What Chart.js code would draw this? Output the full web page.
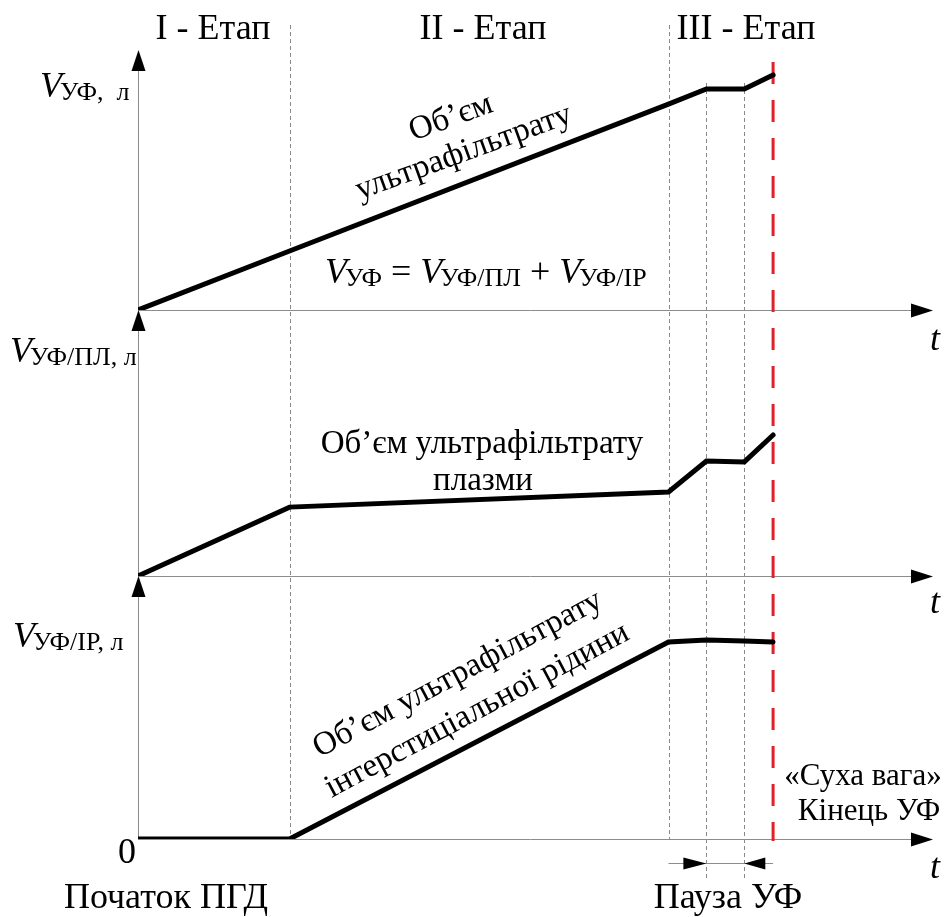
<!DOCTYPE html>
<html>
<head>
<meta charset="utf-8">
<script src="https://cdn.jsdelivr.net/npm/chart.js@4.4.1/dist/chart.umd.min.js"></script>
<style>
  html, body { margin: 0; padding: 0; background: #fff; }
  #wrap { width: 949px; height: 917px; }
</style>
</head>
<body>
<div id="wrap"><canvas id="ufChart" width="949" height="917"></canvas></div>
<script>
// schematic time points
const times = [0, 2, 7, 7.5, 8, 8.38];
const stageBounds = [2, 7];
const pauseBounds = [7.5, 8];
const endTime = 8.38;
const tMax = 10.49;

// volumes (arbitrary units, 0..10 per panel)
const totalVolume = [0, 2.27, 7.92, 8.5, 8.5, 9.04];
const plasmaVolume = [0, 2.59, 3.16, 4.32, 4.29, 5.3];
const interstitialVolume = [0, 0, 7.49, 7.57, 7.53, 7.49];

const stageLabels = ['I - Етап', 'II - Етап', 'III - Етап'];

const SERIF = '"Liberation Serif", "Times New Roman", serif';
const AXIS_GREY = '#8c8c8c';

function toPoints(values) {
  return times.map((t, i) => ({ x: t, y: values[i] }));
}

function arrowUp(ctx, x, tipY) {
  ctx.beginPath();
  ctx.moveTo(x, tipY);
  ctx.lineTo(x - 7, tipY + 21);
  ctx.lineTo(x + 7, tipY + 21);
  ctx.closePath();
  ctx.fill();
}

function arrowH(ctx, tipX, y, dir) {
  ctx.beginPath();
  ctx.moveTo(tipX, y);
  ctx.lineTo(tipX - dir * 22, y - 7);
  ctx.lineTo(tipX - dir * 22, y + 7);
  ctx.closePath();
  ctx.fill();
}

// italic V with an upright subscript, returns x after it
function drawVar(ctx, x, y, sub) {
  ctx.textAlign = 'left';
  ctx.font = 'italic 36px ' + SERIF;
  ctx.fillText('V', x, y);
  const w = ctx.measureText('V').width - 2;
  ctx.font = '26px ' + SERIF;
  ctx.fillText(sub, x + w, y + 3);
  return x + w + ctx.measureText(sub).width;
}

function rotatedLines(ctx, x, y, deg, lines, gap) {
  ctx.save();
  ctx.translate(x, y);
  ctx.rotate(-deg * Math.PI / 180);
  ctx.textAlign = 'center';
  lines.forEach((s, i) => ctx.fillText(s, 0, i * gap));
  ctx.restore();
}

const schemePlugin = {
  id: 'scheme',
  beforeDatasetsDraw(chart) {
    const ctx = chart.ctx;
    const xs = chart.scales.x;
    const panels = [chart.scales.y1, chart.scales.y2, chart.scales.y3];
    const x0 = xs.getPixelForValue(0);
    const xEnd = xs.right;
    const bottom = panels[2].getPixelForValue(0);
    ctx.save();

    // stage and pause guides
    ctx.strokeStyle = '#888';
    ctx.lineWidth = 1;
    ctx.setLineDash([4, 3]);
    stageBounds.forEach(t => {
      const px = Math.round(xs.getPixelForValue(t)) + 0.5;
      ctx.beginPath();
      ctx.moveTo(px, 25);
      ctx.lineTo(px, bottom);
      ctx.stroke();
    });
    pauseBounds.forEach(t => {
      const px = Math.round(xs.getPixelForValue(t)) + 0.5;
      ctx.beginPath();
      ctx.moveTo(px, 83);
      ctx.lineTo(px, bottom + 39);
      ctx.stroke();
    });
    ctx.setLineDash([]);

    // axes
    ctx.strokeStyle = AXIS_GREY;
    ctx.fillStyle = '#000';
    panels.forEach(s => {
      const base = Math.round(s.getPixelForValue(0)) + 0.5;
      const top = s.top;
      ctx.beginPath();
      ctx.moveTo(x0 + 0.5, base);
      ctx.lineTo(x0 + 0.5, top + 10);
      ctx.moveTo(x0, base);
      ctx.lineTo(xEnd - 10, base);
      ctx.stroke();
      arrowUp(ctx, x0 + 0.5, top);
      arrowH(ctx, xEnd, base, 1);
    });

    // pause dimension arrows
    const pauseY = bottom + 24.5;
    const pA = xs.getPixelForValue(pauseBounds[0]);
    const pB = xs.getPixelForValue(pauseBounds[1]);
    ctx.beginPath();
    ctx.moveTo(xs.getPixelForValue(stageBounds[1]), pauseY);
    ctx.lineTo(xs.getPixelForValue(endTime), pauseY);
    ctx.stroke();
    ctx.beginPath();
    ctx.moveTo(pA, pauseY); ctx.lineTo(pA - 23, pauseY - 6); ctx.lineTo(pA - 23, pauseY + 6);
    ctx.closePath(); ctx.fill();
    ctx.beginPath();
    ctx.moveTo(pB, pauseY); ctx.lineTo(pB + 21, pauseY - 6); ctx.lineTo(pB + 21, pauseY + 6);
    ctx.closePath(); ctx.fill();

    // end of UF
    const ex = xs.getPixelForValue(endTime);
    ctx.strokeStyle = '#e0202a';
    ctx.lineWidth = 3;
    ctx.setLineDash([22, 16]);
    ctx.beginPath();
    ctx.moveTo(ex, 62);
    ctx.lineTo(ex, bottom + 2);
    ctx.stroke();
    ctx.restore();
  },
  afterDraw(chart) {
    const ctx = chart.ctx;
    ctx.save();
    ctx.fillStyle = '#000';
    ctx.textBaseline = 'alphabetic';

    // stage titles
    ctx.font = '36px ' + SERIF;
    ctx.textAlign = 'center';
    const stageCenters = [213, 483, 746];
    stageLabels.forEach((s, i) => ctx.fillText(s, stageCenters[i], 39));

    // axis names
    drawVar(ctx, 40, 97, 'УФ,  л');
    drawVar(ctx, 10, 362, 'УФ/ПЛ, л');
    drawVar(ctx, 13, 647, 'УФ/IP, л');

    // time labels
    ctx.font = 'italic 36px ' + SERIF;
    ctx.textAlign = 'center';
    [350, 613, 878].forEach(y => ctx.fillText('t', 935, y));

    ctx.font = '36px ' + SERIF;
    ctx.fillText('0', 127, 863);
    ctx.fillText('Початок ПГД', 166, 908);
    ctx.fillText('Пауза УФ', 728, 908);

    ctx.font = '31px ' + SERIF;
    ctx.fillText('«Суха вага»', 863, 785);
    ctx.fillText('Кінець УФ', 869, 820);

    // equation
    let x = drawVar(ctx, 325, 283, 'УФ');
    ctx.font = '36px ' + SERIF;
    ctx.fillText(' = ', x, 283);
    x += ctx.measureText(' = ').width;
    x = drawVar(ctx, x, 283, 'УФ/ПЛ');
    ctx.font = '36px ' + SERIF;
    ctx.fillText(' + ', x, 283);
    x += ctx.measureText(' + ').width;
    drawVar(ctx, x, 283, 'УФ/IP');

    // curve captions
    ctx.font = '33px ' + SERIF;
    ctx.textAlign = 'center';
    ctx.fillText('Об’єм ультрафільтрату', 482, 453);
    ctx.fillText('плазми', 483, 490);
    rotatedLines(ctx, 454, 126, 20, ['Об’єм', 'ультрафільтрату'], 37);
    rotatedLines(ctx, 462, 682, 28, ['Об’єм ультрафільтрату', 'інтерстиціальної рідини'], 41);
    ctx.restore();
  }
};

const lineStyle = {
  borderColor: '#000',
  borderWidth: 5,
  pointRadius: 0,
  tension: 0,
  borderCapStyle: 'round',
  borderJoinStyle: 'miter',
  fill: false
};

function panelAxis(weight, stackWeight) {
  return {
    type: 'linear',
    position: 'left',
    stack: 'panels',
    stackWeight: stackWeight,
    weight: weight,
    min: 0,
    max: 10,
    grid: { display: false },
    border: { display: false },
    ticks: { display: false },
    afterFit: s => { s.width = 0; }
  };
}

new Chart(document.getElementById('ufChart'), {
  type: 'line',
  data: {
    datasets: [
      Object.assign({ label: 'V УФ', data: toPoints(totalVolume), yAxisID: 'y1' }, lineStyle),
      Object.assign({ label: 'V УФ/ПЛ', data: toPoints(plasmaVolume), yAxisID: 'y2' }, lineStyle),
      Object.assign({ label: 'V УФ/IP', data: toPoints(interstitialVolume), yAxisID: 'y3' }, lineStyle)
    ]
  },
  options: {
    responsive: false,
    animation: false,
    layout: { padding: { left: 138, right: 16, top: 50, bottom: 78 } },
    plugins: { legend: { display: false }, tooltip: { enabled: false } },
    scales: {
      x: { type: 'linear', min: 0, max: tMax, display: false },
      y1: panelAxis(3, 260),
      y2: panelAxis(2, 266),
      y3: panelAxis(1, 263)
    }
  },
  plugins: [schemePlugin]
});
</script>
</body>
</html>
